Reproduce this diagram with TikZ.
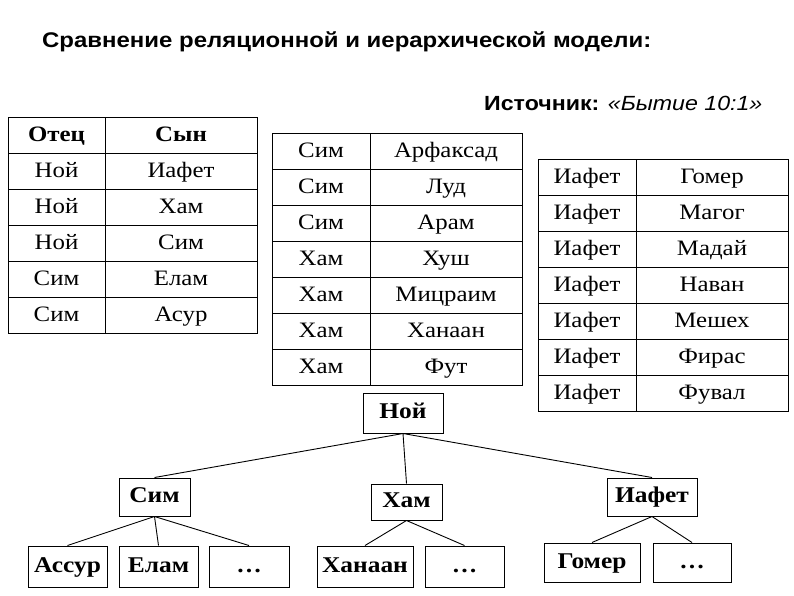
\documentclass[tikz,border=0pt]{standalone}
\usepackage{fontspec}
\setmainfont{Liberation Serif}[FakeStretch=1.13]
\setsansfont{Liberation Sans}[FakeStretch=1.13]
\usetikzlibrary{positioning}

\begin{document}
\begin{tikzpicture}[
  x=1pt, y=-1pt,
  cell/.style={draw, line width=1pt, minimum width=#1, minimum height=36pt,
    inner sep=0pt, text height=15pt, text depth=3pt,
    font=\fontsize{22}{24}\selectfont},
  tbox/.style 2 args={draw, line width=1pt, minimum width=#1, minimum height=#2,
    inner sep=0pt, text height=15pt, text depth=4pt,
    font=\fontsize{22.5}{24}\selectfont\bfseries},
  link/.style={line width=0.9pt},
]
\useasboundingbox (0,0) rectangle (794,595);

% Headings.
\node[anchor=base west, inner sep=0pt, font=\sffamily\bfseries\fontsize{21.2}{24}\selectfont]
  (title) at (42,47) {Сравнение реляционной и иерархической модели:};
\node[anchor=base west, inner sep=0pt, font=\sffamily\fontsize{20.5}{24}\selectfont]
  (source) at (484,110) {\textbf{Источник:} \textit{«Бытие 10:1»}};

% Relational tables.
\node[cell=97pt] (fhead) at (56.5,135) {\textbf{Отец}};
\node[cell=152pt] (shead) at (181,135) {\textbf{Сын}};
\foreach \f/\s [count=\i] in {Ной/Иафет, Ной/Хам, Ной/Сим, Сим/Елам, Сим/Асур}
  {\node[cell=97pt] (ta\i) at (56.5,135+36*\i) {\f};
   \node[cell=152pt] (tb\i) at (181,135+36*\i) {\s};}

\foreach \f/\s [count=\i from 0] in {Сим/Арфаксад, Сим/Луд, Сим/Арам, Хам/Хуш,
    Хам/Мицраим, Хам/Ханаан, Хам/Фут}
  {\node[cell=98pt] (ua\i) at (321,151+36*\i) {\f};
   \node[cell=152pt] (ub\i) at (446,151+36*\i) {\s};}

\foreach \s [count=\i from 0] in {Гомер, Магог, Мадай, Наван, Мешех, Фирас, Фувал}
  {\node[cell=98pt] (va\i) at (587,177+36*\i) {Иафет};
   \node[cell=152pt] (vb\i) at (712,177+36*\i) {\s};}

% Hierarchical tree.
\node[tbox={80pt}{40pt}] (noah) at (403,413) {Ной};
\node[tbox={71pt}{38pt}] (shem) at (154.5,497) {Сим};
\node[tbox={71pt}{36pt}] (ham) at (406.5,502) {Хам};
\node[tbox={90pt}{38pt}] (japheth) at (652,497) {Иафет};

\node[tbox={79pt}{41pt}] (assur) at (67.5,566.5) {Ассур};
\node[tbox={79pt}{41pt}] (elam) at (158.5,566.5) {Елам};
\node[tbox={80pt}{41pt}] (shemmore) at (249,566.5) {…};
\node[tbox={96pt}{41pt}] (canaan) at (365,566.5) {Ханаан};
\node[tbox={79pt}{41pt}] (hammore) at (464.5,566.5) {…};
\node[tbox={96pt}{39pt}] (gomer) at (592,562.5) {Гомер};
\node[tbox={78pt}{39pt}] (japhmore) at (692,562.5) {…};

\draw[link] (noah.south) -- (shem.north);
\draw[link] (noah.south) -- (ham.north);
\draw[link] (noah.south) -- (japheth.north);
\draw[link] (shem.south) -- (assur.north);
\draw[link] (shem.south) -- (elam.north);
\draw[link] (shem.south) -- (shemmore.north);
\draw[link] (ham.south) -- (canaan.north);
\draw[link] (ham.south) -- (hammore.north);
\draw[link] (japheth.south) -- (gomer.north);
\draw[link] (japheth.south) -- (japhmore.north);

\end{tikzpicture}
\end{document}
